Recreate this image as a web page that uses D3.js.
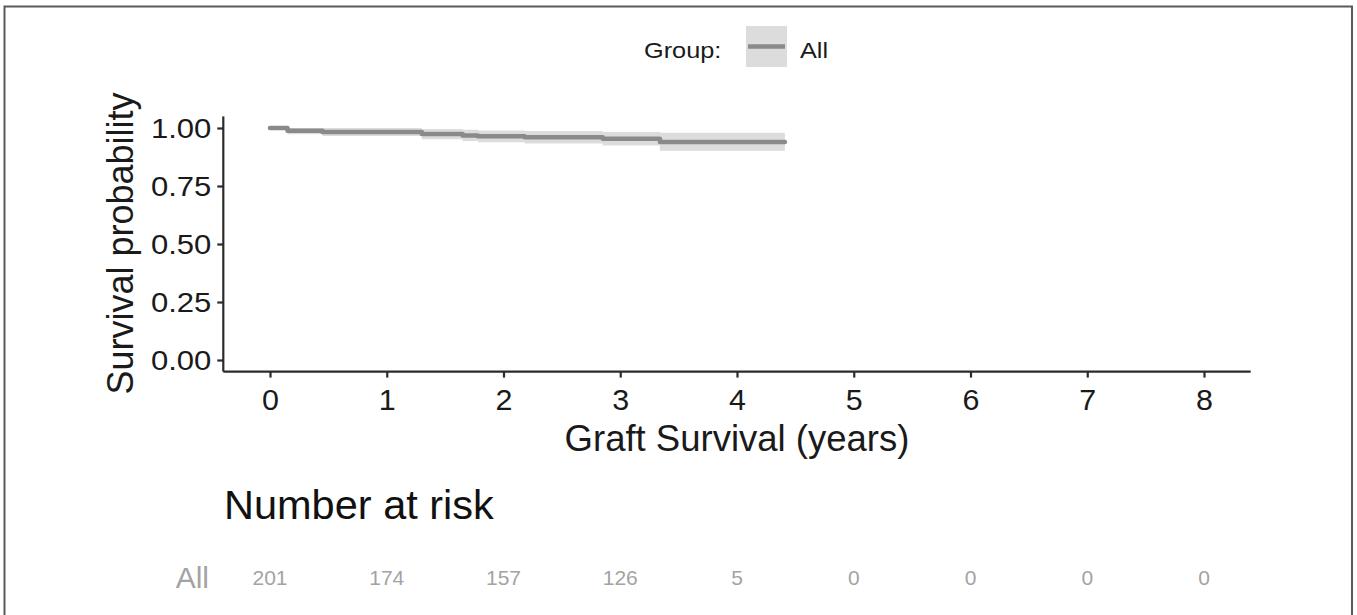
<!DOCTYPE html>
<html>
<head>
<meta charset="utf-8">
<script src="https://cdn.jsdelivr.net/npm/d3@7"></script>
<style>
  html, body { margin: 0; padding: 0; background: #fff; }
  svg { display: block; font-family: "Liberation Sans", Arial, Helvetica, sans-serif; }
</style>
</head>
<body>
<svg id="chart" width="1357" height="615"></svg>
<script>
// ---- data ----
const times = [0, 0.15, 0.45, 1.30, 1.65, 1.78, 2.18, 2.85, 3.34, 4.41];
const survival = [1.000, 0.988, 0.983, 0.974, 0.968, 0.964, 0.960, 0.954, 0.940, 0.940];
const lowerCI = [1.000, 0.973, 0.965, 0.952, 0.944, 0.939, 0.933, 0.925, 0.902, 0.902];
const upperCI = [1.000, 1.000, 1.000, 0.996, 0.992, 0.989, 0.987, 0.983, 0.980, 0.980];
const xTicks = [0, 1, 2, 3, 4, 5, 6, 7, 8];
const yTicks = [0, 0.25, 0.5, 0.75, 1];
const riskTimes = [0, 1, 2, 3, 4, 5, 6, 7, 8];
const riskCounts = [201, 174, 157, 126, 5, 0, 0, 0, 0];
const groupName = "All";

const svg = d3.select("#chart");
const lineColor = "#8a8a8a";
const axisColor = "#2b2b2b";

// frame
svg.append("rect").attr("x", 4.5).attr("y", 6.5).attr("width", 1347.5).attr("height", 620)
  .attr("fill", "none").attr("stroke", "#5a5a5a").attr("stroke-width", 2);

// scales
const x = d3.scaleLinear().domain([-0.4, 8.4]).range([223.3, 1250.7]);
const y = d3.scaleLinear().domain([-0.05, 1.05]).range([371.6, 116.4]);

const rows = times.map((t, i) => ({t, s: survival[i], lo: lowerCI[i], hi: upperCI[i]}));

// confidence band
svg.append("path").datum(rows)
  .attr("d", d3.area().curve(d3.curveStepAfter).x(d => x(d.t)).y0(d => y(d.lo)).y1(d => y(d.hi)))
  .attr("fill", lineColor).attr("opacity", 0.3);

// survival curve
svg.append("path").datum(rows)
  .attr("d", d3.line().curve(d3.curveStepAfter).x(d => x(d.t)).y(d => y(d.s)))
  .attr("fill", "none").attr("stroke", lineColor).attr("stroke-width", 4.5)
  .attr("stroke-linejoin", "round").attr("stroke-linecap", "round");

// axes
const kY = 1.15, kX = 1.05;
const yAxis = svg.append("g").attr("transform", `translate(${x.range()[0]},0)`)
  .call(d3.axisLeft(y).tickValues(yTicks).tickFormat(d3.format(".2f")).tickSize(6).tickPadding(6));
const xAxis = svg.append("g").attr("transform", `translate(0,${y.range()[0]})`)
  .call(d3.axisBottom(x).tickValues(xTicks).tickFormat(d3.format("d")).tickSize(6).tickPadding(6));

[yAxis, xAxis].forEach(g => {
  g.select(".domain").attr("stroke", axisColor).attr("stroke-width", 2.2);
  g.selectAll(".tick line").attr("stroke", axisColor).attr("stroke-width", 2.2);
  g.selectAll(".tick text").attr("fill", "#1a1a1a").attr("font-family", "Liberation Sans, Arial, sans-serif");
});
yAxis.selectAll(".domain").attr("d", `M-0,${y.range()[0]}V${y.range()[1]}`);
xAxis.selectAll(".domain").attr("d", `M${x.range()[0]},0H${x.range()[1]}`);
yAxis.selectAll(".tick text").attr("font-size", 27).attr("x", -12 / kY).attr("dy", "0.36em")
  .attr("transform", `scale(${kY},1)`);
xAxis.selectAll(".tick text").attr("font-size", 29).attr("dy", "0.9em")
  .attr("transform", `scale(${kX},1)`);

// axis titles
svg.append("text").attr("transform", "translate(133,243.5) rotate(-90)")
  .attr("text-anchor", "middle").attr("font-size", 36).attr("fill", "#1a1a1a")
  .text("Survival probability");
svg.append("text").attr("x", 737).attr("y", 451)
  .attr("text-anchor", "middle").attr("font-size", 36.5).attr("fill", "#1a1a1a")
  .text("Graft Survival (years)");

// legend
const leg = svg.append("g");
leg.append("text").attr("transform", "translate(644,58) scale(1.15,1)")
  .attr("font-size", 22).attr("fill", "#1a1a1a").text("Group:");
leg.append("rect").attr("x", 746).attr("y", 26).attr("width", 41).attr("height", 41)
  .attr("fill", lineColor).attr("opacity", 0.3);
leg.append("line").attr("x1", 748).attr("x2", 785).attr("y1", 46.5).attr("y2", 46.5)
  .attr("stroke", lineColor).attr("stroke-width", 4.5);
leg.append("text").attr("transform", "translate(800,58) scale(1.15,1)")
  .attr("font-size", 22).attr("fill", "#1a1a1a").text(groupName);

// risk table
svg.append("text").attr("x", 224).attr("y", 519).attr("font-size", 41.5).attr("fill", "#111")
  .text("Number at risk");
svg.append("text").attr("x", 209).attr("y", 588).attr("text-anchor", "end")
  .attr("font-size", 30).attr("fill", "#a3a3a3").text(groupName);
svg.append("g").selectAll("text").data(riskTimes.map((t, i) => ({t, n: riskCounts[i]})))
  .join("text")
  .attr("x", d => x(d.t)).attr("y", 585).attr("text-anchor", "middle")
  .attr("font-size", 21).attr("fill", "#a3a3a3")
  .text(d => d.n);
</script>
</body>
</html>
